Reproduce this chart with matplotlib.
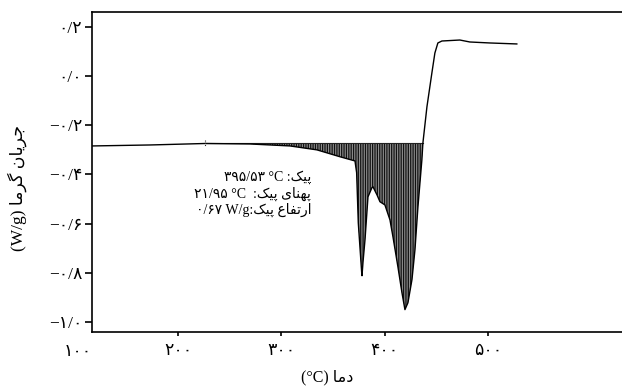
import numpy as np
import matplotlib
matplotlib.use("Agg")
import matplotlib.pyplot as plt
import matplotlib.transforms as mtransforms

# ---------------- data ----------------
temp_c = [116.8, 172.9, 226.1, 269.7, 308.4, 334.5, 356.8, 371.3, 372.9, 374.5,
          377.8, 378.1, 379.1, 381.0, 383.9, 387.7, 388.7, 392.6, 395.5, 400.3,
          405.2, 408.1, 412.9, 416.8, 419.7, 422.6, 426.5, 429.4, 432.3, 436.1,
          437.1, 441.0, 445.8, 448.7, 451.6, 455.5, 472.9, 482.6, 501.9, 528.1]
heat_flow = [-0.284, -0.280, -0.274, -0.276, -0.284, -0.300, -0.328, -0.345, -0.393, -0.597,
             -0.800, -0.812, -0.755, -0.666, -0.491, -0.454, -0.450, -0.483, -0.511, -0.524,
             -0.585, -0.654, -0.776, -0.881, -0.950, -0.922, -0.828, -0.707, -0.532, -0.341,
             -0.272, -0.125, 0.013, 0.094, 0.135, 0.143, 0.147, 0.139, 0.135, 0.131]
peak_start = 226.1
peak_end = 437.1
peak_base = -0.273

x_ticks = [200, 300, 400, 500]
x_tick_labels = ["۲۰۰", "۳۰۰", "۴۰۰", "۵۰۰"]
x_extra_label = (100, "۱۰۰")
y_ticks = [0.2, 0.0, -0.2, -0.4, -0.6, -0.8, -1.0]
y_tick_labels = ["۰/۲", "۰/۰", "−۰/۲", "−۰/۴", "−۰/۶", "−۰/۸", "−۱/۰"]

# ---------------- simple Persian shaping ----------------
FORMS = {  # isolated, final, initial, medial (None = right-joining only)
    "ا": ("\uFE8D", "\uFE8E", None, None),
    "د": ("\uFEA9", "\uFEAA", None, None),
    "ر": ("\uFEAD", "\uFEAE", None, None),
    "ج": ("\uFE9D", "\uFE9E", "\uFE9F", "\uFEA0"),
    "ن": ("\uFEE5", "\uFEE6", "\uFEE7", "\uFEE8"),
    "م": ("\uFEE1", "\uFEE2", "\uFEE3", "\uFEE4"),
    "ت": ("\uFE95", "\uFE96", "\uFE97", "\uFE98"),
    "ف": ("\uFED1", "\uFED2", "\uFED3", "\uFED4"),
    "ع": ("\uFEC9", "\uFECA", "\uFECB", "\uFECC"),
    "ه": ("\uFEE9", "\uFEEA", "\uFEEB", "\uFEEC"),
    "پ": ("\uFB56", "\uFB57", "\uFB58", "\uFB59"),
    "گ": ("\uFB92", "\uFB93", "\uFB94", "\uFB95"),
    "ک": ("\uFB8E", "\uFB8F", "\uFB90", "\uFB91"),
    "ی": ("\uFBFC", "\uFBFD", "\uFBFE", "\uFBFF"),
}


def shape(text):
    out = []
    n = len(text)
    for i, ch in enumerate(text):
        if ch not in FORMS:
            out.append(ch)
            continue
        prev = text[i - 1] if i > 0 else None
        nxt = text[i + 1] if i < n - 1 else None
        join_prev = prev in FORMS and FORMS[prev][2] is not None
        join_next = nxt in FORMS and FORMS[ch][2] is not None
        iso, fin, ini, med = FORMS[ch]
        if join_prev and join_next:
            out.append(med)
        elif join_prev:
            out.append(fin)
        elif join_next:
            out.append(ini)
        else:
            out.append(iso)
    return "".join(out)[::-1]


# ---------------- figure ----------------
plt.rcParams["font.family"] = ["Liberation Serif", "DejaVu Sans"]
plt.rcParams["hatch.linewidth"] = 0.9
fig = plt.figure(figsize=(6.22, 3.87), dpi=100)
ax = fig.add_axes([92 / 622, 1 - 332 / 387, 1 - 92 / 622, 320 / 387])

x = np.array(temp_c)
y = np.array(heat_flow)
mask = (x >= peak_start) & (x <= peak_end)
ax.fill_between(x[mask], y[mask], peak_base, facecolor="#8f8f8f",
                edgecolor="#111111", hatch="|||||||", linewidth=0)
ax.plot([peak_start, peak_end], [peak_base, peak_base], color="#222222", lw=0.8)
ax.plot(x, y, color="black", lw=1.0)
ax.plot([peak_start, peak_start], [peak_base + 0.012, peak_base - 0.012],
        color="#333333", lw=0.8, ls=(0, (1, 1)))

ax.set_xlim(116.5, 630)
ax.set_ylim(-1.041, 0.261)
ax.spines["right"].set_visible(False)
for s in ["left", "bottom", "top"]:
    ax.spines[s].set_linewidth(1.2)

ax.set_xticks(x_ticks)
ax.set_xticklabels(x_tick_labels, fontsize=12.5)
ax.set_yticks(y_ticks)
ax.set_yticklabels(y_tick_labels, fontsize=12.5)
ax.tick_params(axis="y", direction="out", length=5, width=1.2, pad=2)
ax.tick_params(axis="x", direction="out", length=3, width=1.2, pad=5)

trans = mtransforms.blended_transform_factory(ax.transData, ax.transAxes)
ax.text(x_extra_label[0] + 3, -0.062, x_extra_label[1], transform=trans,
        ha="center", va="center", fontsize=12.5, clip_on=False)

fig.text(327 / 622, 1 - 377 / 387, "(°C) " + shape("دما"),
         ha="center", va="center", fontsize=11.5)
fig.text(17 / 622, 1 - 188 / 387, "(W/g) " + shape("جریان گرما"),
         ha="center", va="center", rotation=90, fontsize=12.5)

ann = [
    "۳۹۵/۵۳ °C :" + shape("پیک"),
    "۲۱/۹۵ °C  :" + shape("پهنای پیک"),
    "۰/۶۷ W/g:" + shape("ارتفاع پیک"),
]
for i, line in enumerate(ann):
    fig.text(311 / 622, 1 - (177 + i * 16.5) / 387, line,
             ha="right", va="center", fontsize=10)

fig.savefig("out.png", dpi=100)
